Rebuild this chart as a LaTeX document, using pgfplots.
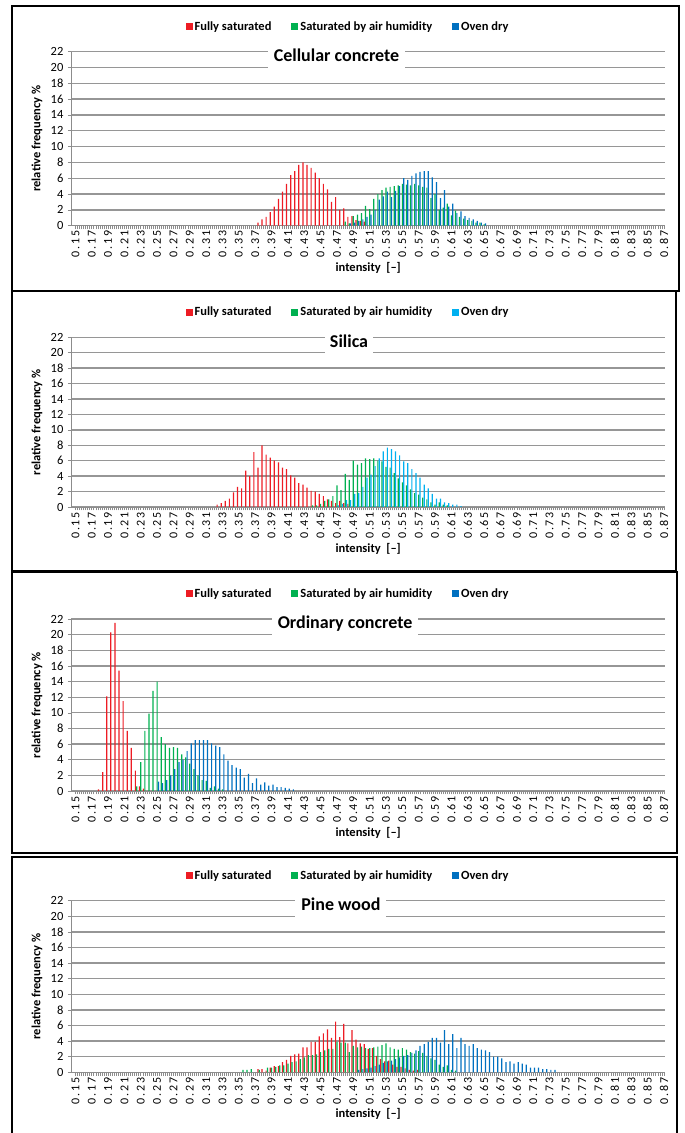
\documentclass[border=0pt]{standalone}
\usepackage{fontspec}
\setmainfont{Carlito}
\newfontfamily\tickfont[LetterSpace=15]{Carlito}
\usepackage{pgfplots}
\pgfplotsset{compat=1.18}
\definecolor{cred}{RGB}{237,28,36}
\definecolor{cgreen}{RGB}{0,176,80}
\definecolor{cblue}{RGB}{0,112,192}
\definecolor{clblue}{RGB}{0,176,240}
\definecolor{gridgray}{RGB}{150,150,150}
\definecolor{axisgray}{RGB}{140,140,140}
\tikzset{
 titlebox/.style={fill=white, inner xsep=6pt, inner ysep=0pt,
   font=\bfseries\fontsize{18}{21}\selectfont, text height=15pt, text depth=11pt,
   anchor=base, yshift=-10pt},
}
\pgfplotsset{
 panel/.style={
  scale only axis, width=593.6pt, anchor=south west, clip=false,
  xmin=0.1451, xmax=0.8713, ymin=0, ymax=22,
  ybar=0.15pt, bar width=1.2pt,
  axis lines*=left, axis line style={-, draw=axisgray, line width=0.8pt},
  ymajorgrids, major grid style={draw=gridgray, line width=1.3pt},
  ytick={0,2,...,22},
  xtick={0.15,0.17,0.19,0.21,0.23,0.25,0.27,0.29,0.31,0.33,0.35,0.37,0.39,0.41,0.43,0.45,0.47,0.49,0.51,0.53,0.55,0.57,0.59,0.61,0.63,0.65,0.67,0.69,0.71,0.73,0.75,0.77,0.79,0.81,0.83,0.85,0.87},
  xticklabels={0.15,0.17,0.19,0.21,0.23,0.25,0.27,0.29,0.31,0.33,0.35,0.37,0.39,0.41,0.43,0.45,0.47,0.49,0.51,0.53,0.55,0.57,0.59,0.61,0.63,0.65,0.67,0.69,0.71,0.73,0.75,0.77,0.79,0.81,0.83,0.85,0.87},
  minor x tick num=7,
  tick align=outside, major tick length=3.5pt, minor tick length=3.5pt,
  tick style={draw=axisgray, line width=0.6pt},
  xticklabel style={rotate=90, anchor=east, inner sep=1.5pt, font=\tickfont\fontsize{12}{13}\selectfont},
  yticklabel style={font=\fontsize{12.5}{14}\selectfont, xshift=-1pt},
  /pgf/number format/assume math mode=true,
  xlabel={intensity\ \ [–]}, ylabel={relative frequency \%},
  label style={font=\bfseries\fontsize{12.5}{14}\selectfont},
  xlabel style={at={(axis description cs:0.5,0)}, anchor=center, yshift=-42pt},
  ylabel style={at={(axis description cs:-0.058,0.5)}, anchor=center},
  legend columns=3,
  legend style={at={(axis description cs:0.466,1)}, anchor=center, yshift=25pt,
    draw=none, fill=none, font=\bfseries\fontsize{12.5}{14}\selectfont,
    /tikz/every even column/.append style={column sep=18pt}},
  legend image code/.code={\fill[##1] (0pt,-3.5pt) rectangle (7pt,3.5pt);},
 },
}
\begin{document}
\begin{tikzpicture}
\useasboundingbox (0pt,0pt) rectangle (685pt,1133pt);
% panel frames
\draw[line width=1.5pt] (12pt,1127pt) rectangle (679pt,842pt);
\draw[line width=1.5pt] (12pt,842pt) rectangle (676pt,562pt);
\draw[line width=1.5pt] (12pt,561pt) rectangle (677pt,280pt);
\draw[line width=1.5pt] (12pt,276pt) rectangle (677pt,-3pt);

% ---------- Cellular concrete ----------
\begin{axis}[panel, at={(71.4pt,907.3pt)}, height=174pt]
\addplot[fill=cred, draw=none] coordinates {(0.375,0.4)(0.38,0.8)(0.385,1.1)(0.39,1.7)(0.395,2.4)(0.40,3.4)(0.405,4.3)(0.41,5.3)(0.415,6.4)(0.42,6.9)(0.425,7.7)(0.43,8.0)(0.435,7.7)(0.44,7.3)(0.445,6.7)(0.45,6.0)(0.455,5.3)(0.46,4.6)(0.465,3.0)(0.47,3.6)(0.475,2.0)(0.48,2.2)(0.485,1.1)(0.49,1.2)(0.495,0.7)(0.50,0.6)(0.505,0.5)};
\addplot[fill=cgreen, draw=none] coordinates {(0.48,0.5)(0.485,0.3)(0.49,1.2)(0.495,1.4)(0.50,1.6)(0.505,2.5)(0.51,2.1)(0.515,3.4)(0.52,4.0)(0.525,4.5)(0.53,4.8)(0.535,4.9)(0.54,5.0)(0.545,5.1)(0.55,5.3)(0.555,5.2)(0.56,5.1)(0.565,5.3)(0.57,5.1)(0.575,4.9)(0.58,4.8)(0.585,3.5)(0.59,4.0)(0.595,2.0)(0.60,2.3)(0.605,2.8)(0.61,1.3)(0.615,1.9)(0.62,1.1)(0.625,0.9)(0.63,0.7)(0.635,0.6)(0.64,0.4)(0.645,0.4)(0.65,0.2)};
\addplot[fill=cblue, draw=none] coordinates {(0.485,0.3)(0.49,0.4)(0.495,0.6)(0.50,0.8)(0.505,1.1)(0.51,1.4)(0.515,2.0)(0.52,3.3)(0.525,3.7)(0.53,4.3)(0.535,3.6)(0.54,4.4)(0.545,5.0)(0.55,6.0)(0.555,5.8)(0.56,6.3)(0.565,6.6)(0.57,6.8)(0.575,6.9)(0.58,6.9)(0.585,6.1)(0.59,5.5)(0.595,3.5)(0.60,4.5)(0.605,2.4)(0.61,2.8)(0.615,1.6)(0.62,1.8)(0.625,1.2)(0.63,1.0)(0.635,0.8)(0.64,0.6)(0.645,0.4)(0.65,0.3)};
\legend{Fully saturated, Saturated by air humidity, Oven dry}
\node[titlebox] at (axis description cs:0.4466,1) {Cellular concrete};
\end{axis}

% ---------- Silica ----------
\begin{axis}[panel, at={(71.4pt,626pt)}, height=169.7pt]
\addplot[fill=cred, draw=none] coordinates {(0.325,0.3)(0.33,0.5)(0.335,0.8)(0.34,1.1)(0.345,1.9)(0.35,2.6)(0.355,2.4)(0.36,4.7)(0.365,4.0)(0.37,7.1)(0.375,5.1)(0.38,8.0)(0.385,6.8)(0.39,6.4)(0.395,6.0)(0.40,5.8)(0.405,5.1)(0.41,4.9)(0.415,4.1)(0.42,3.8)(0.425,3.1)(0.43,2.9)(0.435,2.5)(0.44,2.1)(0.445,2.0)(0.45,1.7)(0.455,1.4)(0.46,1.0)(0.465,0.8)(0.47,0.5)(0.475,0.8)(0.48,0.5)(0.485,0.4)};
\addplot[fill=cgreen, draw=none] coordinates {(0.44,0.2)(0.445,0.2)(0.45,0.4)(0.455,0.8)(0.46,1.0)(0.465,1.4)(0.47,2.8)(0.475,2.2)(0.48,4.3)(0.485,3.5)(0.49,6.0)(0.495,5.5)(0.50,5.7)(0.505,6.3)(0.51,6.2)(0.515,6.3)(0.52,6.0)(0.525,5.9)(0.53,5.2)(0.535,5.1)(0.54,4.4)(0.545,3.7)(0.55,3.2)(0.555,2.8)(0.56,2.3)(0.565,1.8)(0.57,1.6)(0.575,1.2)(0.58,1.0)(0.585,0.6)(0.59,0.3)(0.595,0.6)(0.60,0.3)(0.605,0.2)};
\addplot[fill=clblue, draw=none] coordinates {(0.47,0.2)(0.475,0.4)(0.48,0.9)(0.485,0.9)(0.49,1.7)(0.495,1.8)(0.50,2.6)(0.505,3.8)(0.51,4.2)(0.515,5.3)(0.52,6.3)(0.525,7.2)(0.53,7.7)(0.535,7.5)(0.54,7.2)(0.545,6.7)(0.55,5.9)(0.555,5.7)(0.56,4.9)(0.565,4.4)(0.57,3.8)(0.575,2.9)(0.58,2.4)(0.585,1.7)(0.59,1.1)(0.595,1.1)(0.60,0.6)(0.605,0.5)(0.61,0.3)(0.615,0.3)(0.62,0.1)};
\legend{Fully saturated, Saturated by air humidity, Oven dry}
\node[titlebox, inner xsep=5pt] at (axis description cs:0.4677,1) {Silica};
\end{axis}

% ---------- Ordinary concrete ----------
\begin{axis}[panel, at={(71.4pt,342pt)}, height=172pt]
\addplot[fill=cred, draw=none] coordinates {(0.18,0.2)(0.185,2.4)(0.19,12.1)(0.195,20.3)(0.20,21.5)(0.205,15.4)(0.21,11.5)(0.215,7.7)(0.22,5.5)(0.225,2.6)(0.23,0.6)(0.235,0.3)};
\addplot[fill=cgreen, draw=none] coordinates {(0.225,0.6)(0.23,3.7)(0.235,7.7)(0.24,9.9)(0.245,12.8)(0.25,14.0)(0.255,6.9)(0.26,6.0)(0.265,5.5)(0.27,5.6)(0.275,5.5)(0.28,4.7)(0.285,4.3)(0.29,3.5)(0.295,2.8)(0.30,2.0)(0.305,1.4)(0.31,1.3)(0.315,0.4)(0.32,0.6)(0.325,0.3)(0.33,0.2)};
\addplot[fill=cblue, draw=none] coordinates {(0.25,1.2)(0.255,1.0)(0.26,1.4)(0.265,2.0)(0.27,2.8)(0.275,3.7)(0.28,4.0)(0.285,5.1)(0.29,6.1)(0.295,6.5)(0.30,6.5)(0.305,6.5)(0.31,6.5)(0.315,6.1)(0.32,5.8)(0.325,5.6)(0.33,4.7)(0.335,3.9)(0.34,3.3)(0.345,3.0)(0.35,2.8)(0.355,1.7)(0.36,2.2)(0.365,1.0)(0.37,1.6)(0.375,0.8)(0.38,1.1)(0.385,0.7)(0.39,0.8)(0.395,0.5)(0.40,0.5)(0.405,0.4)(0.41,0.3)(0.415,0.2)};
\legend{Fully saturated, Saturated by air humidity, Oven dry}
\node[titlebox] at (axis description cs:0.461,1) {Ordinary concrete};
\end{axis}

% ---------- Pine wood ----------
\begin{axis}[panel, at={(71.4pt,60.7pt)}, height=171.6pt]
\addplot[fill=cred, draw=none] coordinates {(0.375,0.4)(0.38,0.4)(0.385,0.2)(0.39,0.6)(0.395,0.8)(0.40,0.8)(0.405,1.3)(0.41,1.6)(0.415,2.1)(0.42,2.3)(0.425,2.4)(0.43,3.2)(0.435,3.2)(0.44,3.9)(0.445,3.9)(0.45,4.6)(0.455,5.0)(0.46,5.5)(0.465,4.4)(0.47,6.5)(0.475,4.5)(0.48,6.2)(0.485,3.7)(0.49,5.4)(0.495,4.2)(0.50,3.7)(0.505,3.6)(0.51,3.0)(0.515,3.1)(0.52,2.1)(0.525,1.7)(0.53,1.4)(0.535,1.5)(0.54,1.0)(0.545,0.7)(0.55,0.7)(0.555,0.5)(0.56,0.3)(0.565,0.2)(0.57,0.3)};
\addplot[fill=cgreen, draw=none] coordinates {(0.355,0.3)(0.36,0.3)(0.365,0.4)(0.375,0.3)(0.385,0.6)(0.39,0.6)(0.395,0.7)(0.40,0.9)(0.405,0.9)(0.41,1.1)(0.415,1.3)(0.42,1.4)(0.425,1.7)(0.43,1.9)(0.435,2.2)(0.44,2.2)(0.445,2.3)(0.45,2.6)(0.455,2.8)(0.46,3.0)(0.465,3.0)(0.47,3.9)(0.475,3.8)(0.48,3.8)(0.485,2.6)(0.49,3.4)(0.495,3.2)(0.50,3.3)(0.505,3.1)(0.51,3.1)(0.515,3.2)(0.52,3.3)(0.525,3.5)(0.53,3.7)(0.535,3.2)(0.54,3.0)(0.545,2.9)(0.55,3.1)(0.555,2.9)(0.56,2.6)(0.565,2.4)(0.57,2.7)(0.575,2.5)(0.58,2.1)(0.585,1.8)(0.59,1.6)(0.595,1.0)(0.60,0.7)(0.605,0.9)(0.61,0.3)(0.615,0.2)};
\addplot[fill=cblue, draw=none] coordinates {(0.495,0.3)(0.50,0.4)(0.505,0.5)(0.51,0.6)(0.515,0.8)(0.52,1.0)(0.525,1.2)(0.53,1.4)(0.535,1.5)(0.54,1.7)(0.545,1.9)(0.55,2.1)(0.555,2.2)(0.56,2.5)(0.565,2.8)(0.57,3.4)(0.575,3.6)(0.58,3.9)(0.585,4.4)(0.59,4.4)(0.595,3.8)(0.60,5.4)(0.605,3.6)(0.61,4.9)(0.615,3.1)(0.62,4.4)(0.625,3.6)(0.63,3.4)(0.635,3.6)(0.64,3.1)(0.645,2.9)(0.65,2.8)(0.655,2.6)(0.66,2.0)(0.665,2.0)(0.67,1.8)(0.675,1.3)(0.68,1.4)(0.685,1.1)(0.69,1.3)(0.695,1.1)(0.70,1.0)(0.705,0.6)(0.71,0.6)(0.715,0.6)(0.72,0.4)(0.725,0.4)(0.73,0.3)(0.735,0.3)};
\legend{Fully saturated, Saturated by air humidity, Oven dry}
\node[titlebox] at (axis description cs:0.454,1) {Pine wood};
\end{axis}
\end{tikzpicture}
\end{document}
